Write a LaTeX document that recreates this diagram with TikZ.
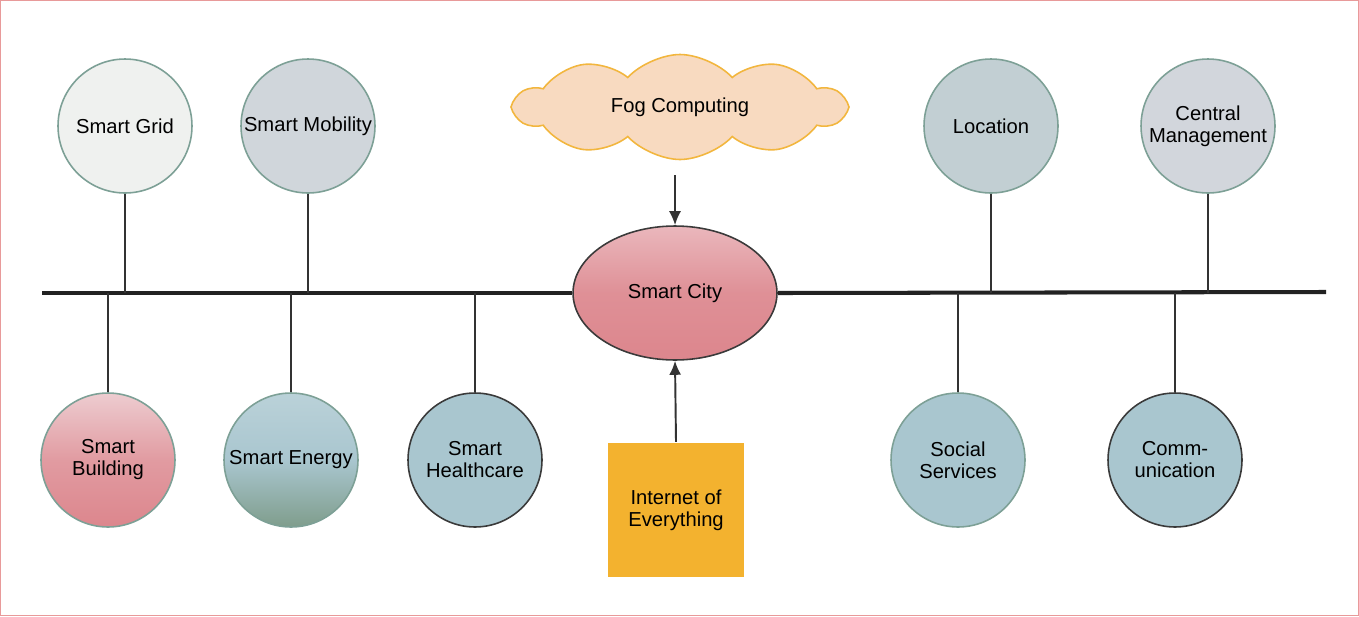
\documentclass[tikz,border=0pt]{standalone}
\usepackage{fontspec}
\setmainfont{Liberation Sans}
\usetikzlibrary{shapes,arrows,arrows.meta}
\usetikzlibrary{calc,positioning}

\definecolor{framered}{HTML}{E89A9A}
\definecolor{ringgreen}{HTML}{7DA096}
\definecolor{darkring}{HTML}{3A3A3A}
\definecolor{stemgray}{HTML}{333333}
\definecolor{busblack}{HTML}{222222}
\definecolor{gridwhite}{HTML}{EFF1EF}
\definecolor{mobgray}{HTML}{D0D6DB}
\definecolor{locgray}{HTML}{C2CFD3}
\definecolor{cengray}{HTML}{D2D6DC}
\definecolor{tealblue}{HTML}{A9C6CF}
\definecolor{pinktop}{HTML}{EDCCD0}
\definecolor{pinkbot}{HTML}{DC868D}
\definecolor{sagebot}{HTML}{7F9D8C}
\definecolor{citytop}{HTML}{EAB7BC}
\definecolor{fogpeach}{HTML}{F8DAC0}
\definecolor{fogorange}{HTML}{F2B63E}
\definecolor{ioeorange}{HTML}{F3B22F}

\tikzstyle{topic} = [circle,minimum size=2.68cm,inner sep=1pt,align=center,draw=ringgreen,line width=0.9pt,font=\fontsize{11.5}{12.5}\selectfont]
\tikzstyle{hub} = [ellipse,minimum width=4.08cm,minimum height=2.68cm,align=center,draw=darkring,line width=0.9pt,font=\fontsize{11.5}{12.5}\selectfont]
\tikzstyle{fogcloud} = [cloud,cloud puffs=10,cloud puff arc=95,aspect=3.4,minimum width=6.6cm,minimum height=2.1cm,draw=fogorange,fill=fogpeach,line width=0.9pt,font=\fontsize{11.5}{12.5}\selectfont]
\tikzstyle{ioebox} = [rectangle,minimum width=2.72cm,minimum height=2.7cm,align=center,fill=ioeorange,font=\fontsize{11.5}{12.5}\selectfont]
\tikzstyle{stem} = [-,draw=stemgray,line width=0.9pt]
\tikzstyle{bus} = [-,draw=busblack,line width=2.3pt]
\tikzstyle{feed} = [-{Latex[length=2.8mm,width=2.4mm]},draw=stemgray,fill=stemgray,line width=1.1pt]

\begin{document}
\begin{tikzpicture}[x=0.02cm,y=-0.02cm,thick]
\useasboundingbox (0,0) rectangle (1359,616);
\draw[framered,line width=0.6pt] (0.5,0.5) rectangle (1358.5,615.5);

% centre
\node (city) [hub,top color=citytop,bottom color=pinkbot,middle color=pinkbot!80!citytop] at (675,293) {Smart City};
\node (fog) [fogcloud] at (680,107) {Fog Computing};
\node (ioe) [ioebox] at (676,510) {Internet of\\Everything};

% upper row
\node (grid) [topic,fill=gridwhite] at (125,126) {Smart Grid};
\node (mobility) [topic,fill=mobgray] at (308,126) {Smart Mobility};
\node (location) [topic,fill=locgray] at (991,126) {Location};
\node (central) [topic,fill=cengray] at (1208,126) {Central\\Management};

% lower row
\node (building) [topic,top color=pinktop,bottom color=pinkbot,middle color=pinkbot!70!pinktop] at (108,460) {Smart\\Building};
\node (energy) [topic,top color=tealblue!80!white,bottom color=sagebot,middle color=tealblue] at (291,460) {Smart Energy};
\node (health) [topic,fill=tealblue,draw=darkring] at (475,460) {Smart\\Healthcare};
\node (social) [topic,fill=tealblue] at (958,460) {Social\\Services};
\node (comm) [topic,fill=tealblue,draw=darkring] at (1175,460) {Comm-\\unication};

\coordinate (busL) at (42,293);
\coordinate (busR) at (1326,292);
\coordinate (fogout) at (675,175);

\draw[bus] (busL) -- (city.west);
\draw[bus] (city.east) -- (busR);

\foreach \n in {grid,mobility,location,central,building,energy,health,social,comm}
{
  \draw[stem] (\n) -- (\n |- city.center);
}

\draw[feed] (fogout) -- (city.north);
\draw[feed] (ioe.north) -- (city.south);

\end{tikzpicture}
\end{document}
